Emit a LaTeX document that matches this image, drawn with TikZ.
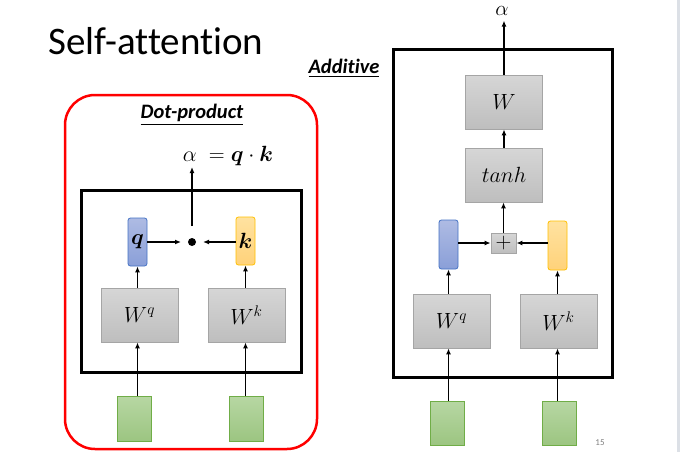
\RequirePackage{fix-cm}
\documentclass[tikz,border=0pt]{standalone}
\usepackage{fontspec}
\usepackage{amsmath}
\usepackage{bm}
\setmainfont{Carlito}[Ligatures=NoCommon]
\usetikzlibrary{arrows.meta,calc}
\definecolor{grayedge}{HTML}{A5A5A5}
\definecolor{graytop}{HTML}{D6D6D6}
\definecolor{graybot}{HTML}{BEBEBE}
\definecolor{greenedge}{HTML}{70AD47}
\definecolor{greentop}{HTML}{B7D7A3}
\definecolor{greenbot}{HTML}{9CC581}
\definecolor{blueedge}{HTML}{4472C4}
\definecolor{bluetop}{HTML}{AEBBE3}
\definecolor{bluebot}{HTML}{8A9FD8}
\definecolor{orangeedge}{HTML}{FFC000}
\definecolor{orangetop}{HTML}{FFE2A0}
\definecolor{orangebot}{HTML}{FFD27A}
\definecolor{stripcol}{HTML}{DCE0E6}
\tikzset{
  graybox/.style={draw=grayedge, line width=0.8pt, top color=graytop, bottom color=graybot, minimum width=77pt, minimum height=54pt, inner sep=0pt, font=\fontsize{22}{22}\selectfont},
  greenbox/.style={draw=greenedge, line width=0.8pt, top color=greentop, bottom color=greenbot, minimum width=34pt, minimum height=45pt, inner sep=0pt},
  bluebox/.style={draw=blueedge, line width=0.8pt, top color=bluetop, bottom color=bluebot, rounded corners=2.5pt, minimum width=19pt, minimum height=48pt, inner sep=0pt, font=\fontsize{22}{22}\selectfont},
  orangebox/.style={draw=orangeedge, line width=0.8pt, top color=orangetop, bottom color=orangebot, rounded corners=2.5pt, minimum width=19pt, minimum height=48pt, inner sep=0pt, font=\fontsize{22}{22}\selectfont},
  outerbox/.style={draw=black, line width=3pt},
  arr/.style={line width=1.5pt, -{Latex[length=6pt,width=5pt]}},
  heading/.style={font=\fontsize{20.5}{20.5}\selectfont\bfseries\itshape, inner sep=0pt}
}
\begin{document}
\begin{tikzpicture}[x=1pt,y=-1pt]
\useasboundingbox (0,0) rectangle (682,452);
\fill[white] (0,0) rectangle (682,452);
\fill[stripcol] (677,0) rectangle (680,452);
% title
\node[anchor=base west, inner sep=0pt, font=\fontsize{39}{39}\selectfont] (title) at (48,55) {Self-attention};
\node[inner sep=0pt, font=\fontsize{9}{9}\selectfont, text=gray] (pagenum) at (600,443) {15};

% ---------------- Dot-product ----------------
\draw[red, line width=2.5pt, rounded corners=30pt] (65,95) rectangle (317,449);
\node[heading] (dptitle) at (192,115) {\underline{Dot-product}};
\node[inner sep=0pt, font=\fontsize{22}{22}\selectfont] (dpform) at (228,156) {$\alpha\;=\bm{q}\cdot\bm{k}$};
\draw[outerbox] (81,190) rectangle (301,372);
\node[bluebox] (q1) at (137.5,242) {$\bm{q}$};
\node[orangebox] (k1) at (245.5,241) {$\bm{k}$};
\fill (192,242) circle (4pt);
\coordinate (dot1) at (192,242);
\node[graybox] (wq1) at (139.5,315) {$W^q$};
\node[graybox] (wk1) at (246.5,315) {$W^k$};
\node[greenbox] (g1) at (134.5,418.5) {};
\node[greenbox] (g2) at (246,418.5) {};
\draw[arr] (q1.east) -- ($(dot1)+(-11,0)$);
\draw[arr] (k1.west |- dot1) -- ($(dot1)+(11,0)$);
\draw[arr] ($(dot1)+(0,-16)$) -- ($(dot1)+(0,-75)$);
\draw[arr] (wq1.north -| q1) -- (q1.south);
\draw[arr] (wk1.north -| k1) -- (k1.south);
\draw[arr] (g1.north -| q1) -- (wq1.south -| q1);
\draw[arr] (g2.north -| k1) -- (wk1.south -| k1);

% ---------------- Additive ----------------
\node[heading] (adtitle) at (344,68) {\underline{Additive}};
\draw[outerbox] (393,50) rectangle (612,377);
\node[inner sep=0pt, font=\fontsize{21}{21}\selectfont] (alpha2) at (502,11) {$\alpha$};
\node[graybox] (w2) at (504,102) {$W$};
\node[graybox] (tanh2) at (504,175) {$tanh$};
\node[draw=grayedge, line width=0.8pt, top color=graytop, bottom color=graybot, minimum width=25pt, minimum height=20pt, inner sep=0pt, font=\fontsize{22}{22}\selectfont] (plus2) at (503.5,243) {$+$};
\node[bluebox, minimum height=49pt] (q2) at (448.5,244.5) {};
\node[orangebox, minimum height=49pt] (k2) at (557.5,245.5) {};
\node[graybox] (wq2) at (451.5,321) {$W^q$};
\node[graybox] (wk2) at (558.5,321) {$W^k$};
\node[greenbox, minimum height=44pt] (g3) at (447,423) {};
\node[greenbox, minimum height=44pt] (g4) at (559,423) {};
\draw[arr] (q2.east |- plus2) -- (plus2.west);
\draw[arr] (k2.west |- plus2) -- (plus2.east);
\draw[arr] (plus2.north) -- (tanh2.south -| plus2);
\draw[arr] (tanh2.north) -- (w2.south);
\draw[arr] (w2.north) -- ($(w2.north)+(0,-54)$);
\draw[arr] (wq2.north -| q2) -- (q2.south);
\draw[arr] (wk2.north -| k2) -- (k2.south);
\draw[arr] (g3.north -| q2) -- (wq2.south -| q2);
\draw[arr] (g4.north -| k2) -- (wk2.south -| k2);
\end{tikzpicture}
\end{document}
